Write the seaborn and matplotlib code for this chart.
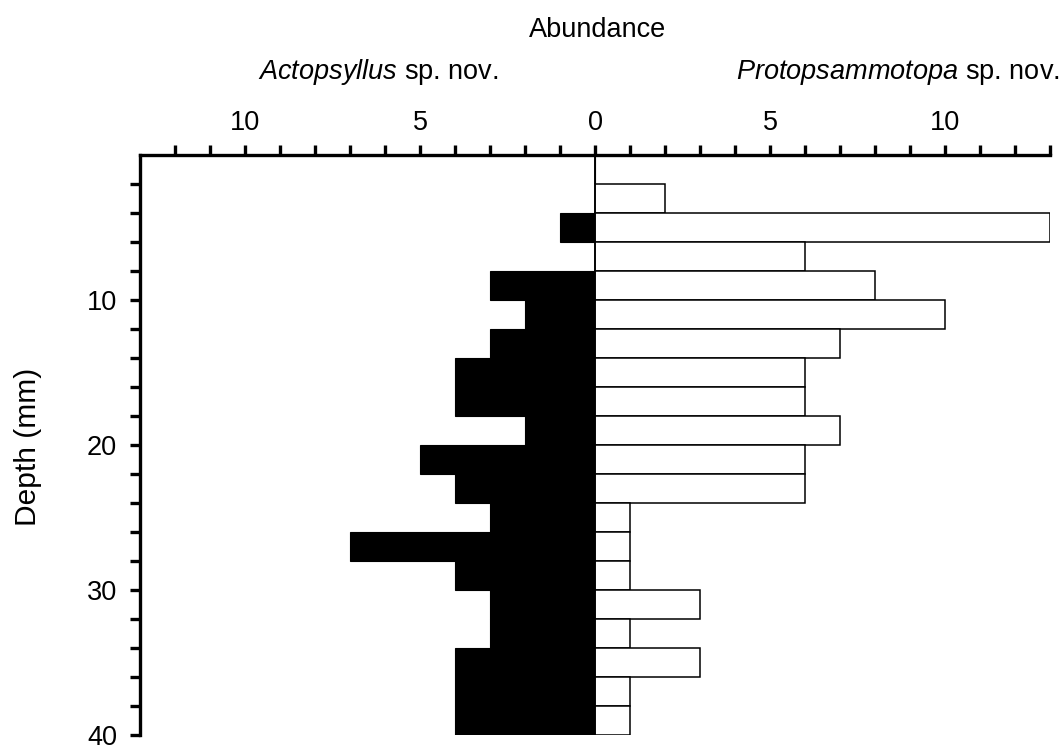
import numpy as np
import pandas as pd
import matplotlib
matplotlib.use('Agg')
import matplotlib.pyplot as plt
import seaborn as sns
from matplotlib.ticker import FixedLocator, FuncFormatter

# depth classes (mm), 2 mm slices from 0 to 40
depth_top = list(range(0, 40, 2))
# Actopsyllus sp. nov. (left, black)
actopsyllus = [0, 0, 1, 0, 3, 2, 3, 4, 4, 2, 5, 4, 3, 7, 4, 3, 3, 4, 4, 4]
# Protopsammotopa sp. nov. (right, white)
protopsammotopa = [0, 2, 13, 6, 8, 10, 7, 6, 6, 7, 6, 6, 1, 1, 1, 3, 1, 3, 1, 1]

sns.set_theme(style='ticks')
plt.rcParams['font.family'] = ['Liberation Sans', 'DejaVu Sans']
plt.rcParams['text.color'] = 'black'
plt.rcParams['mathtext.fontset'] = 'custom'
plt.rcParams['mathtext.it'] = 'Liberation Sans:italic'
plt.rcParams['mathtext.rm'] = 'Liberation Sans'

df = pd.DataFrame({'depth': [d + 1 for d in depth_top],
                   'left': [-v for v in actopsyllus],
                   'right': protopsammotopa})

fig = plt.figure(figsize=(10.63, 7.51), dpi=100)
ax = fig.add_axes([0.1317, 0.0213, 0.8561, 0.7723])

sns.barplot(data=df, x='left', y='depth', orient='h', native_scale=True,
            width=1, color='black', edgecolor='black', linewidth=0.8,
            saturation=1, ax=ax)
sns.barplot(data=df, x='right', y='depth', orient='h', native_scale=True,
            width=1, color='white', edgecolor='black', linewidth=1.1,
            saturation=1, ax=ax)
ax.axvline(0, color='black', lw=1.2, zorder=5)

ax.set_xlim(-13, 13)
ax.set_ylim(40, 0)

# top axis, ticks every unit, labels every 5 (absolute values)
ax.xaxis.tick_top()
ax.xaxis.set_major_locator(FixedLocator(list(range(-12, 14))))
ax.xaxis.set_major_formatter(FuncFormatter(
    lambda v, p: '%d' % abs(round(v)) if round(v) % 5 == 0 else ''))
ax.yaxis.set_major_locator(FixedLocator(list(range(2, 41, 2))))
ax.yaxis.set_major_formatter(FuncFormatter(
    lambda v, p: '%d' % round(v) if round(v) % 10 == 0 else ''))
ax.tick_params(axis='both', direction='out', length=7.5, width=2.4,
               labelsize=19.5, colors='black', pad=9)
ax.tick_params(axis='x', pad=6)

ax.set_xlabel('')
ax.set_ylabel('')
for s in ['right', 'bottom']:
    ax.spines[s].set_visible(False)
for s in ['top', 'left']:
    ax.spines[s].set_linewidth(2.4)
    ax.spines[s].set_color('black')

fig.text(0.562, 0.96, 'Abundance', ha='center', va='center', fontsize=19.5)
fig.text(0.356, 0.904, r'$\it{Actopsyllus}$ sp. nov.', ha='center',
         va='center', fontsize=19.5)
fig.text(0.845, 0.904, r'$\it{Protopsammotopa}$ sp. nov.', ha='center',
         va='center', fontsize=19.5)
fig.text(0.026, 0.405, 'Depth (mm)', ha='center', va='center',
         rotation=90, fontsize=21.5)

fig.savefig('out.png', dpi=100, facecolor='white')
